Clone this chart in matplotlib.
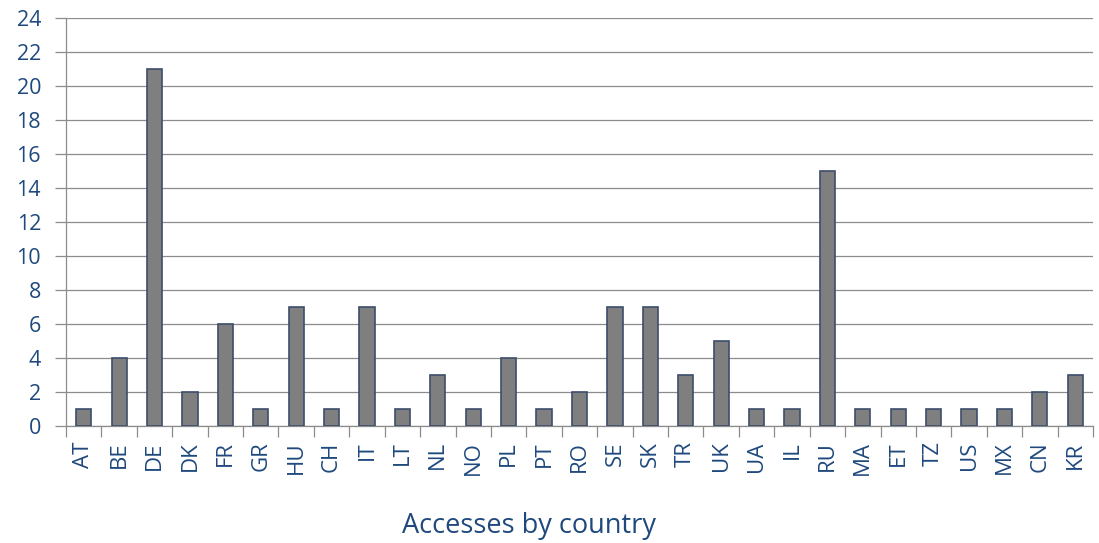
import matplotlib.pyplot as plt
import numpy as np

countries = ["AT", "BE", "DE", "DK", "FR", "GR", "HU", "CH", "IT", "LT", "NL", "NO",
             "PL", "PT", "RO", "SE", "SK", "TR", "UK", "UA", "IL", "RU", "MA", "ET",
             "TZ", "US", "MX", "CN", "KR"]
accesses = [1, 4, 21, 2, 6, 1, 7, 1, 7, 1, 3, 1,
            4, 1, 2, 7, 7, 3, 5, 1, 1, 15, 1, 1,
            1, 1, 1, 2, 3]

txt = "#1F497D"
grid = "#8C8C8C"
plt.rcParams['font.family'] = ['Open Sans', 'DejaVu Sans']

fig = plt.figure(figsize=(10.99, 5.43), dpi=100)
ax = fig.add_axes([66 / 1099, 117 / 543, (1093 - 66) / 1099, (426 - 18) / 543])

x = np.arange(len(countries))
ax.bar(x, accesses, width=0.43, color="#7F7F7F", edgecolor="#3C4E6B", linewidth=1.2, zorder=3)

ax.set_xlim(-0.5, len(countries) - 0.5)
ax.set_ylim(0, 24)
ax.set_yticks(range(0, 25, 2))
ax.yaxis.grid(True, color=grid, lw=0.9, zorder=0)

ax.set_xticks(x)
ax.set_xticklabels(countries, rotation=90)
ax.set_xticks(np.arange(-0.5, len(countries)), minor=True)
ax.tick_params(axis="x", which="major", length=0, pad=11, labelsize=16, labelcolor=txt)
ax.tick_params(axis="x", which="minor", length=8, color=grid, width=0.9)
ax.tick_params(axis="y", length=8, color=grid, width=0.9, labelsize=15.5, labelcolor=txt, pad=10)

for s in ["top", "right"]:
    ax.spines[s].set_visible(False)
for s in ["left", "bottom"]:
    ax.spines[s].set_color(grid)
    ax.spines[s].set_linewidth(0.9)

fig.text(0.4815, 1 - 526 / 543, "Accesses by country", ha="center", va="center",
         fontsize=19.5, color=txt)

fig.savefig("out.png", dpi=100)
